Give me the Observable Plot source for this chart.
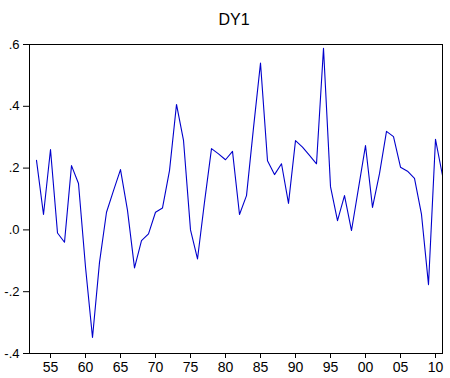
<!DOCTYPE html>
<html>
<head>
<meta charset="utf-8">
<script src="https://cdn.jsdelivr.net/npm/d3@7"></script>
<script src="https://cdn.jsdelivr.net/npm/@observablehq/plot@0.6"></script>
<style>
  html, body { margin: 0; padding: 0; background: #fff; }
  #chart svg { display: block; }
  #chart svg, #chart svg text { font-family: "Liberation Sans", Arial, sans-serif !important; }
</style>
</head>
<body>
<div id="chart"></div>
<script>
const title = "DY1";
const years = d3.range(1953, 2012);
const dy1 = [
  0.225, 0.05, 0.26, -0.01, -0.04, 0.208, 0.15, -0.12, -0.348, -0.105,
  0.057, 0.127, 0.195, 0.063, -0.123, -0.035, -0.013, 0.057, 0.071, 0.192,
  0.406, 0.29, 0.0, -0.094, 0.09, 0.263, 0.246, 0.227, 0.254, 0.05,
  0.111, 0.33, 0.54, 0.224, 0.179, 0.214, 0.086, 0.289, 0.268, 0.241,
  0.214, 0.588, 0.14, 0.03, 0.111, -0.002, 0.135, 0.273, 0.073, 0.182,
  0.319, 0.302, 0.203, 0.19, 0.167, 0.05, -0.177, 0.293, 0.176
];
const xTicks = [1955, 1960, 1965, 1970, 1975, 1980, 1985, 1990, 1995, 2000, 2005, 2010];
const xTickLabels = ["55", "60", "65", "70", "75", "80", "85", "90", "95", "00", "05", "10"];
const yTicks = [-0.4, -0.2, 0, 0.2, 0.4, 0.6];
const yTickLabels = ["-.4", "-.2", ".0", ".2", ".4", ".6"];

const data = years.map((y, i) => ({year: y, value: dy1[i]}));

const chart = Plot.plot({
  width: 450,
  height: 378,
  marginLeft: 29,
  marginRight: 8,
  marginTop: 44,
  marginBottom: 25,
  style: {fontSize: "13px", color: "#000", background: "#fff"},
  x: {domain: [1952, 2011]},
  y: {domain: [-0.4, 0.6]},
  marks: [
    Plot.axisX({ticks: xTicks, tickSize: 5, tickPadding: 4, tickFormat: d => xTickLabels[xTicks.indexOf(d)], label: null, fontSize: 14}),
    Plot.axisY({ticks: yTicks, tickSize: 6, tickPadding: 4, tickFormat: d => yTickLabels[yTicks.findIndex(t => Math.abs(t - d) < 1e-9)], label: null, fontSize: 13}),
    Plot.line(data, {x: "year", y: "value", stroke: "#0000cc", strokeWidth: 1.1}),
    Plot.frame({stroke: "#000", strokeWidth: 1}),
    Plot.text([title], {frameAnchor: "top", dy: -31, dx: -2, fontSize: 16, fill: "#000"})
  ]
});
document.getElementById("chart").appendChild(chart);
</script>
</body>
</html>
